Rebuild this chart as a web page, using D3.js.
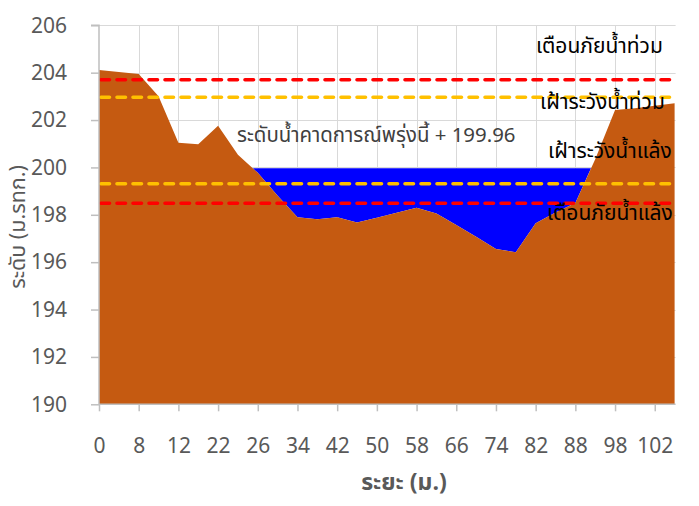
<!DOCTYPE html>
<html>
<head>
<meta charset="utf-8">
<script src="https://cdn.jsdelivr.net/npm/d3@7"></script>
<style>
  html, body { margin: 0; padding: 0; background: #ffffff; }
  svg { display: block; }
  text { font-family: Tahoma, "Noto Sans Thai", "Leelawadee UI", "DejaVu Sans", sans-serif; }
</style>
</head>
<body>
<svg id="chart" width="699" height="506"></svg>
<script>
// Cross-section survey points: distance from the left bank (m)
const distances = [0, 4, 8, 10, 12, 17, 22, 24, 26, 30, 34, 38, 42, 46, 50,
                   54, 58, 62, 66, 70, 74, 78, 82, 85, 88, 93, 98, 100, 102, 104];
// Ground elevation at each survey point (m MSL)
const groundLevel = [204.11, 204.03, 203.94, 203.00, 201.04, 200.98, 201.76, 200.53, 199.77, 198.80,
                     197.90, 197.81, 197.90, 197.67, 197.88, 198.09, 198.30, 198.06, 197.57, 197.07,
                     196.56, 196.42, 197.64, 198.10, 198.50, 200.35, 202.42, 202.50, 202.60, 202.71];
// Tomorrow's forecast water level (m MSL)
const forecastLevel = 199.96;

// Alert thresholds
const thresholdNames  = ["เตือนภัยน้ำท่วม", "เฝ้าระวังน้ำท่วม", "เฝ้าระวังน้ำแล้ง", "เตือนภัยน้ำแล้ง"];
const thresholdValues = [203.70, 202.96, 199.31, 198.49];
const thresholdColors = ["#FF0000", "#FFC000", "#FFC000", "#FF0000"];

const yTicks = [190, 192, 194, 196, 198, 200, 202, 204, 206];
const labelEvery = 2;

const xTitle = "ระยะ (ม.)";
const yTitle = "ระดับ (ม.รทก.)";
const forecastText = "ระดับน้ำคาดการณ์พรุ่งนี้ + " + forecastLevel.toFixed(2);

// ---- layout ----
const plot = { left: 99, right: 674.6, top: 25.3, bottom: 404.3 };
const thresholdLabelX  = [536, 540, 548, 547];
const thresholdLabelDy = [-27, 12, -26, 17];

const svg = d3.select("#chart");
const n = groundLevel.length;

const x = d3.scaleLinear().domain([0, n - 1]).range([plot.left, plot.right]);
const y = d3.scaleLinear().domain([d3.min(yTicks), d3.max(yTicks)]).range([plot.bottom, plot.top]);

const labelIdx = d3.range(0, n, labelEvery);

// gridlines
const grid = svg.append("g").attr("stroke", "#d9d9d9").attr("stroke-width", 1);
grid.selectAll("line.h").data(yTicks.slice(1)).join("line")
  .attr("x1", plot.left).attr("x2", plot.right + 1)
  .attr("y1", d => Math.round(y(d)) + 0.5).attr("y2", d => Math.round(y(d)) + 0.5);
grid.selectAll("line.v").data(labelIdx.slice(1)).join("line")
  .attr("x1", d => Math.round(x(d)) + 0.5).attr("x2", d => Math.round(x(d)) + 0.5)
  .attr("y1", plot.top).attr("y2", plot.bottom);

// water body: between the ground and the forecast level wherever the ground is lower
const waterPts = [];
for (let i = 0; i < n; i++) {
  const v = groundLevel[i];
  if (v < forecastLevel) waterPts.push({ i: i, g: v });
  if (i < n - 1) {
    const w = groundLevel[i + 1];
    if ((v < forecastLevel) !== (w < forecastLevel)) {
      const t = (forecastLevel - v) / (w - v);
      waterPts.push({ i: i + t, g: forecastLevel });
    }
  }
}
svg.append("path")
  .datum(waterPts)
  .attr("fill", "#0000FF")
  .attr("d", d3.area().x(d => x(d.i)).y0(d => y(d.g)).y1(() => y(forecastLevel)));

// ground profile
svg.append("path")
  .datum(groundLevel)
  .attr("fill", "#C55A11")
  .attr("d", d3.area().x((d, i) => x(i)).y0(y(d3.min(yTicks))).y1(d => y(d)));

// threshold lines
svg.append("g").selectAll("line").data(thresholdValues).join("line")
  .attr("x1", plot.left + 2).attr("x2", plot.right)
  .attr("y1", d => y(d)).attr("y2", d => y(d))
  .attr("stroke", (d, i) => thresholdColors[i])
  .attr("stroke-width", 3.6)
  .attr("stroke-linecap", "round")
  .attr("stroke-dasharray", "8.5,7.5");

// axes
const axisColor = "#bfbfbf";
const tickColor = "#595959";

const yAxis = svg.append("g")
  .attr("transform", `translate(${plot.left},0)`)
  .call(d3.axisLeft(y).tickValues(yTicks).tickSize(8).tickPadding(24).tickFormat(d3.format("d")));
const xAxis = svg.append("g")
  .attr("transform", `translate(0,${plot.bottom})`)
  .call(d3.axisBottom(x).tickValues(labelIdx).tickSize(7).tickPadding(27).tickFormat(i => distances[i]));

[yAxis, xAxis].forEach(a => {
  a.select(".domain").attr("stroke", axisColor).attr("stroke-width", 1.5);
  a.selectAll(".tick line").attr("stroke", axisColor).attr("stroke-width", 1.5);
  a.selectAll(".tick text").attr("fill", tickColor).attr("font-size", 21);
});
yAxis.select(".domain").attr("d", `M-8,${plot.top}H0V${plot.bottom}`);
xAxis.select(".domain").attr("d", `M${plot.left},0H${plot.right + 1}`);

// axis titles
svg.append("text")
  .attr("x", 404).attr("y", 490)
  .attr("text-anchor", "middle")
  .attr("fill", tickColor).attr("font-size", 23).attr("font-weight", "bold")
  .text(xTitle);
svg.append("text")
  .attr("transform", "translate(25,227) rotate(-90)")
  .attr("text-anchor", "middle")
  .attr("fill", tickColor).attr("font-size", 21.5)
  .text(yTitle);

// threshold labels
svg.append("g").selectAll("text").data(thresholdNames).join("text")
  .attr("x", (d, i) => thresholdLabelX[i])
  .attr("y", (d, i) => y(thresholdValues[i]) + thresholdLabelDy[i])
  .attr("fill", "#000000").attr("font-size", 21)
  .text(d => d);

// forecast label
svg.append("text")
  .attr("x", 237).attr("y", y(forecastLevel) - 26)
  .attr("fill", "#404040").attr("font-size", 20.4)
  .text(forecastText);
</script>
</body>
</html>
